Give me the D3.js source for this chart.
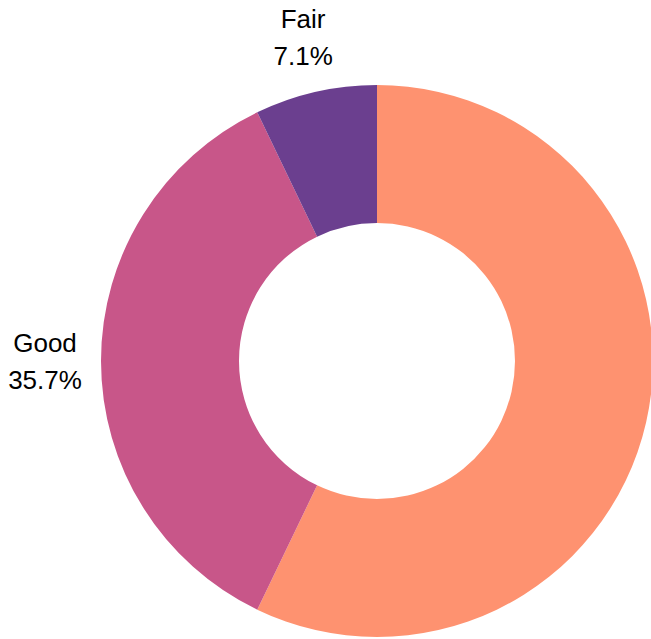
<!DOCTYPE html>
<html>
<head>
<meta charset="utf-8">
<script src="https://cdn.jsdelivr.net/npm/d3@7"></script>
<style>
  body { margin: 0; background: #fff; }
  text { font-family: "Liberation Sans", Arial, sans-serif; }
</style>
</head>
<body>
<script>
(function(){
    var categories = ["Excellent", "Good", "Fair"];
    var counts = [8, 5, 1];
    var colors = ["#fe9270", "#c85689", "#6b3f8f"];

    var width = 651, height = 639;
    var cx = 377, cy = 361;
    var outerR = 276, innerR = 138, labelR = 332;

    var total = d3.sum(counts);
    var rows = categories.map(function(c, i) {
        return { name: c, value: counts[i], color: colors[i] };
    });

    var svg = d3.select("body").append("svg")
        .attr("width", width).attr("height", height);

    var g = svg.append("g").attr("transform", "translate(" + cx + "," + cy + ")");

    var pie = d3.pie().sort(null).value(function(d) { return d.value; });
    var arc = d3.arc().innerRadius(innerR).outerRadius(outerR);
    var labelArc = d3.arc().innerRadius(labelR).outerRadius(labelR);

    var arcs = pie(rows);

    g.selectAll("path.slice").data(arcs)
        .enter()
        .append("path").attr("class", "slice")
        .attr("d", arc)
        .attr("fill", function(d) { return d.data.color; });

    // the big slice's label lands past the right edge, so it is left out
    var shown = arcs.filter(function(d) {
        return cx + labelArc.centroid(d)[0] < width;
    });

    var labels = g.selectAll("text.label").data(shown)
        .enter()
        .append("text").attr("class", "label")
        .attr("text-anchor", "middle")
        .attr("font-size", 26)
        .attr("fill", "#000")
        .attr("transform", function(d) {
            return "translate(" + labelArc.centroid(d) + ")";
        });

    labels.append("tspan").attr("x", 0).attr("y", -9)
        .text(function(d) { return d.data.name; });
    labels.append("tspan").attr("x", 0).attr("y", 28)
        .text(function(d) { return (d.value / total * 100).toFixed(1) + "%"; });
})();
</script>
</body>
</html>
